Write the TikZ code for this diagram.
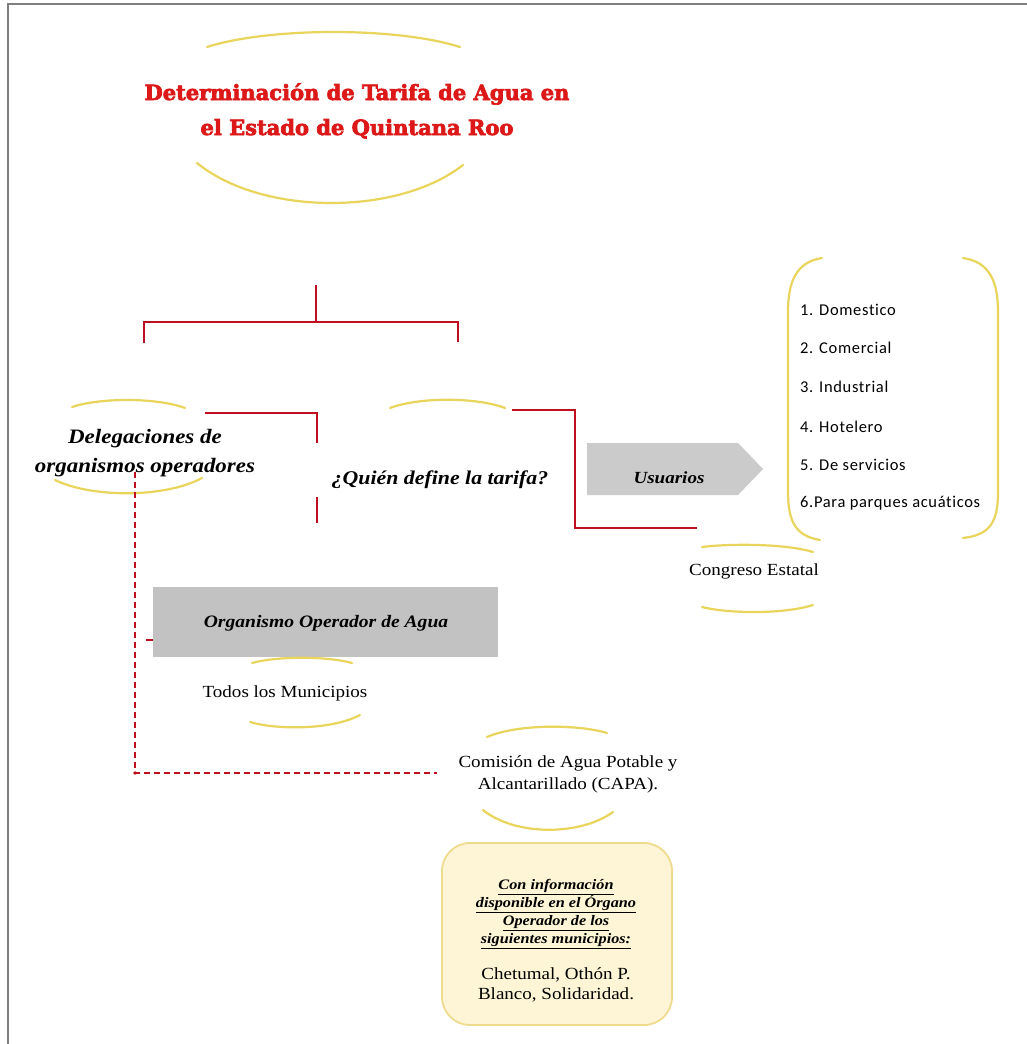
\documentclass[tikz,border=0pt]{standalone}
\usepackage{fontspec}
\setmainfont{Liberation Serif}[FakeStretch=1.12]
\newfontfamily\titlefont{DejaVu Serif}[FakeBold=3.2]
\newfontfamily\listfont{Carlito}[LetterSpace=4, Ligatures={NoCommon,NoContextual}]

\definecolor{linered}{HTML}{BE1020}
\definecolor{titlered}{HTML}{DC1818}
\definecolor{arcyellow}{HTML}{E9D55C}
\definecolor{boxgray}{HTML}{C2C2C2}
\definecolor{framegray}{HTML}{7F7F7F}
\definecolor{notefill}{HTML}{FDF5D6}
\definecolor{noteline}{HTML}{EFDB8E}

\tikzset{
  redline/.style={draw=linered, line width=2.8pt},
  reddash/.style={draw=linered, line width=2pt, dash pattern=on 6pt off 4pt},
  arc/.style={draw=arcyellow, line width=2.2pt, line cap=round},
  label/.style={inner sep=0pt, align=center, text=black},
  bi/.style={label, font=\fontsize{20.5}{29}\selectfont\bfseries\itshape},
  plain/.style={label, font=\fontsize{17}{22}\selectfont},
  listitem/.style={inner sep=0pt, anchor=west, font=\listfont\fontsize{16.5}{18}\selectfont},
}

\begin{document}
\begin{tikzpicture}[x=1pt, y=-1pt]
\useasboundingbox (0,0) rectangle (1027,1044);
\fill[white] (0,0) rectangle (1027,1044);

% page frame (left and top edges)
\draw[framegray, line width=2pt] (8,1044) -- (8,4) -- (1027,4);

% ---------- title ----------
\node[label, text=titlered, font=\titlefont\bfseries\fontsize{21}{35}\selectfont]
  (title) at (357,111) {Determinación de Tarifa de Agua en\\el Estado de Quintana Roo};
\draw[arc] (207,47) .. controls (270,27) and (397,27) .. (460,47);
\draw[arc] (197,163) .. controls (262,216) and (398,216) .. (463,165);

% ---------- red bracket under the title ----------
\coordinate (stem) at (316,285);
\coordinate (fork) at (316,322);
\coordinate (forkL) at (144,322);
\coordinate (forkR) at (458,322);
\coordinate (legL) at (144,343);
\coordinate (legR) at (458,342);
\draw[redline] (stem) -- (fork);
\draw[redline] (legL) -- (forkL) -- (forkR) -- (legR);

% ---------- left branch ----------
\node[bi] (deleg) at (145,453) {Delegaciones de\\organismos operadores};
\draw[arc] (72,407) .. controls (100,397.5) and (157,397.5) .. (185,408);
\draw[arc] (55,480) .. controls (92,498) and (165,498) .. (202,478);

\coordinate (dA) at (205,413);
\coordinate (dB) at (317,413);
\coordinate (dC) at (317,443);
\coordinate (dD) at (317,497);
\coordinate (dE) at (317,523);
\draw[redline] (dA) -- (dB) -- (dC);
\draw[redline] (dD) -- (dE);

% ---------- question ----------
\node[bi, font=\fontsize{19.5}{24}\selectfont\bfseries\itshape] (quien) at (440,480) {¿Quién define la tarifa?};
\draw[arc] (390,408) .. controls (419,397) and (476,397) .. (505,408);

\coordinate (qA) at (512,410);
\coordinate (qB) at (575,410);
\coordinate (qC) at (575,528);
\coordinate (qD) at (697,528);
\draw[redline] (qA) -- (qB) -- (qC) -- (qD);

% ---------- users arrow ----------
\fill[boxgray!85] (587,443) -- (738,443) -- (763,469) -- (738,495) -- (587,495) -- cycle;
\node[bi, font=\fontsize{17}{20}\selectfont\bfseries\itshape] (usuarios) at (669,478) {Usuarios};

% ---------- list of user types ----------
\draw[arc] (822,258) .. controls (796,262) and (788,282) .. (788,312) -- (788,492)
           .. controls (788,522) and (796,536) .. (820,540);
\draw[arc] (963,258) .. controls (990,262) and (998,282) .. (998,312) -- (998,492)
           .. controls (998,522) and (990,535) .. (963,538);
\node[listitem] (u1) at (800,310) {1. Domestico};
\node[listitem] (u2) at (800,348) {2. Comercial};
\node[listitem] (u3) at (800,387) {3. Industrial};
\node[listitem] (u4) at (800,427) {4. Hotelero};
\node[listitem] (u5) at (800,465) {5. De servicios};
\node[listitem] (u6) at (800,503) {6.Para parques acuáticos};

% ---------- state congress ----------
\node[plain, font=\fontsize{17}{20}\selectfont] (congreso) at (754,571) {Congreso Estatal};
\draw[arc] (702,547) .. controls (730,543.5) and (785,543.5) .. (813,552);
\draw[arc] (702,607) .. controls (730,614) and (785,614) .. (813,605);

% ---------- water operator ----------
\fill[boxgray] (153,587) rectangle (498,657);
\node[bi, font=\fontsize{17.5}{20}\selectfont\bfseries\itshape] (organismo) at (326,623) {Organismo Operador de Agua};

\node[plain] (todos) at (285,693) {Todos los Municipios};
\draw[arc] (252,663) .. controls (277,656) and (327,656) .. (352,663);
\draw[arc] (250,722) .. controls (277,730) and (332,730) .. (360,715);

% ---------- dashed link ----------
\coordinate (dash0) at (135,472);
\coordinate (dash1) at (135,773);
\coordinate (dash2) at (437,773);
\coordinate (tick0) at (146,640);
\coordinate (tick1) at (153,640);
\draw[reddash] (dash0) -- (dash1) -- (dash2);
\draw[linered, line width=2pt] (tick0) -- (tick1);
\fill[linered] (dash1) circle (1.8);

% ---------- CAPA ----------
\node[plain] (capa) at (568,774) {Comisión de Agua Potable y\\Alcantarillado (CAPA).};
\draw[arc] (487,737) .. controls (517,724) and (577,724) .. (607,733);
\draw[arc] (483,810) .. controls (515,836) and (580,836) .. (613,812);

% ---------- note ----------
\draw[draw=noteline, fill=notefill, line width=1.8pt, rounded corners=28pt]
  (442,843) rectangle (672,1025);
\node[label, font=\fontsize{14.5}{18}\selectfont\bfseries\itshape] (nota) at (556,914)
  {\underline{Con información}\\\underline{disponible en el Órgano}\\\underline{Operador de los}\\\underline{siguientes municipios:}};
\node[plain, font=\fontsize{17}{20}\selectfont] (ciudades) at (556,985) {Chetumal, Othón P.\\Blanco, Solidaridad.};
\end{tikzpicture}
\end{document}
